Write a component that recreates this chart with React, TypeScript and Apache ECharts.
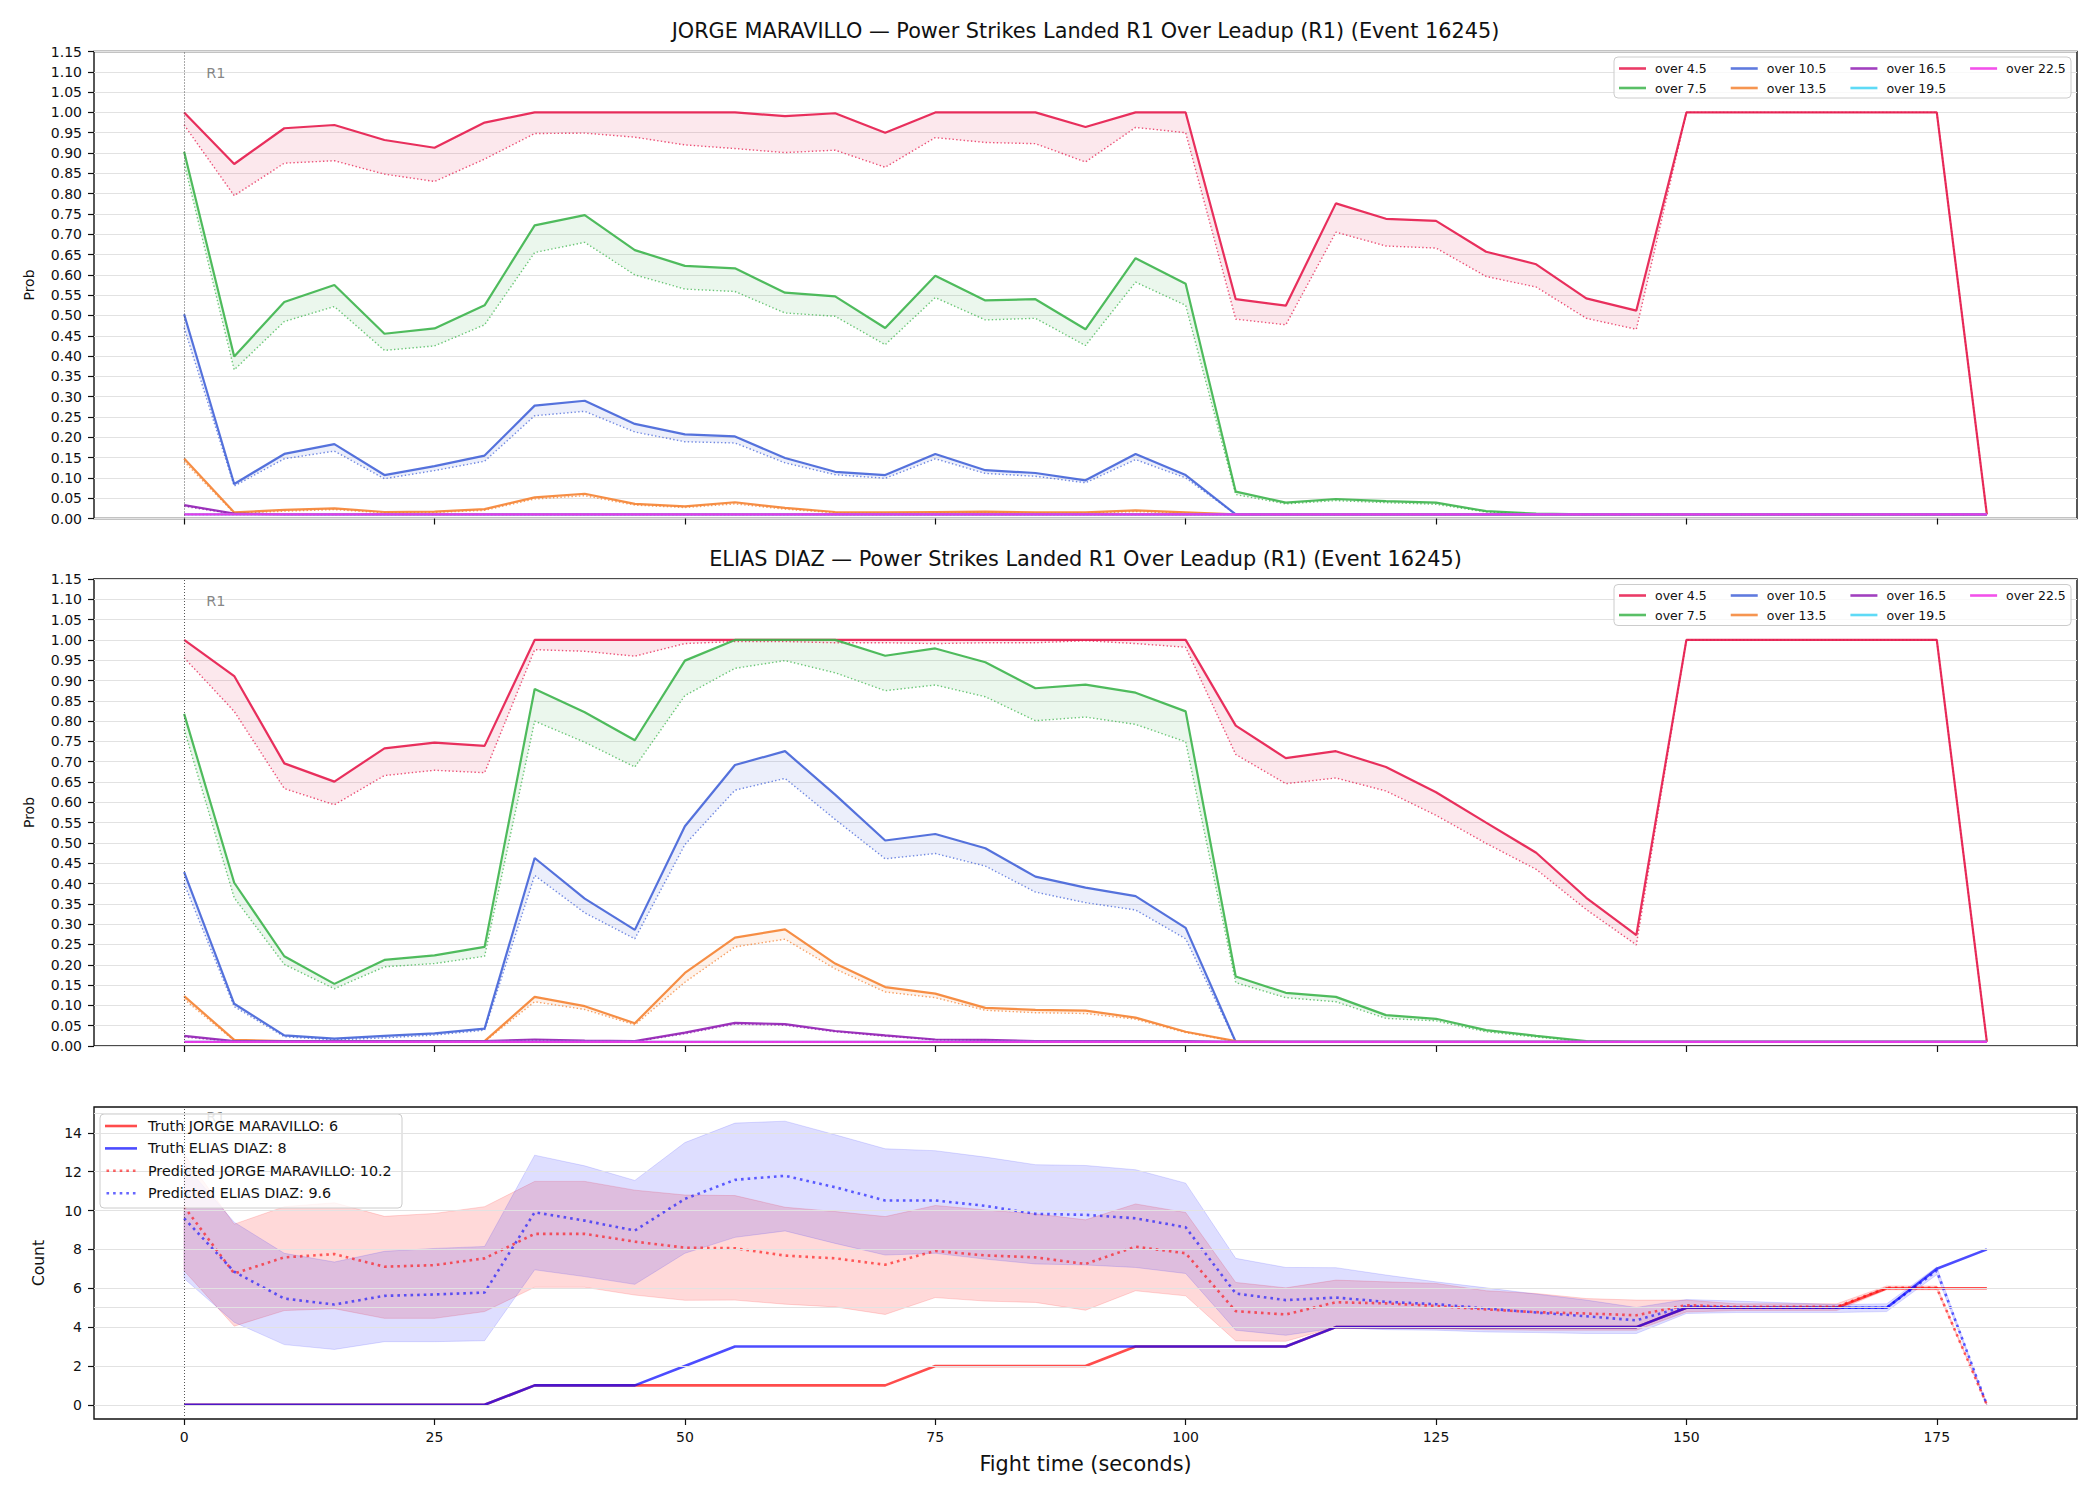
import React, { useEffect, useRef } from "react";
import * as echarts from "echarts";

const FONT = '"DejaVu Sans", Verdana, sans-serif';

const TIMES = [0,5,10,15,20,25,30,35,40,45,50,55,60,65,70,75,80,85,90,95,100,105,110,115,120,125,130,135,140,145,150,155,160,165,170,175,180];
const X_TICKS = [0,25,50,75,100,125,150,175];
const COUNT_TICKS = [0,2,4,6,8,10,12,14];
const COUNT_GRID_EXTRA = [5,15];

const THRESHOLDS = ["over 4.5","over 7.5","over 10.5","over 13.5","over 16.5","over 19.5","over 22.5"];
const THRESH_COLORS = ["#e6194b","#3cb44b","#4363d8","#f58231","#911eb4","#42d4f4","#f032e6"];
const LEGEND_ROW1 = ["over 4.5","over 10.5","over 16.5","over 22.5"];
const LEGEND_ROW2 = ["over 7.5","over 13.5","over 19.5"];

const TOP_TITLE = "JORGE MARAVILLO — Power Strikes Landed R1 Over Leadup (R1) (Event 16245)";
const MID_TITLE = "ELIAS DIAZ — Power Strikes Landed R1 Over Leadup (R1) (Event 16245)";

// ---------- JORGE MARAVILLO (solid = HI, dotted = LO) ----------
const J_45_HI = [1.000,0.873,0.961,0.969,0.932,0.913,0.975,1.000,1.000,1.000,1.000,1.000,0.991,0.998,0.950,1.000,1.000,1.000,0.964,1.000,1.000,0.540,0.524,0.776,0.738,0.733,0.657,0.626,0.542,0.512,1.000,1.000,1.000,1.000,1.000,1.000,0.010];
const J_45_LO = [0.969,0.795,0.875,0.881,0.848,0.830,0.885,0.948,0.949,0.939,0.920,0.911,0.901,0.907,0.865,0.938,0.926,0.923,0.878,0.963,0.950,0.491,0.477,0.705,0.671,0.666,0.596,0.570,0.493,0.466,1.000,1.000,1.000,1.000,1.000,1.000,0.010];
const J_75_HI = [0.903,0.399,0.533,0.575,0.455,0.468,0.525,0.722,0.747,0.661,0.622,0.616,0.556,0.547,0.469,0.598,0.537,0.540,0.466,0.641,0.578,0.066,0.039,0.048,0.043,0.039,0.018,0.012,0.010,0.010,0.010,0.010,0.010,0.010,0.010,0.010,0.010];
const J_75_LO = [0.875,0.366,0.485,0.522,0.414,0.425,0.477,0.655,0.680,0.600,0.565,0.559,0.506,0.498,0.428,0.544,0.489,0.493,0.426,0.582,0.525,0.059,0.036,0.044,0.039,0.035,0.016,0.011,0.010,0.010,0.010,0.010,0.010,0.010,0.010,0.010,0.010];
const J_105_HI = [0.503,0.085,0.159,0.183,0.107,0.129,0.155,0.278,0.290,0.233,0.207,0.202,0.149,0.115,0.107,0.159,0.119,0.112,0.094,0.159,0.107,0.010,0.010,0.010,0.010,0.010,0.010,0.010,0.010,0.010,0.010,0.010,0.010,0.010,0.010,0.010,0.010];
const J_105_LO = [0.470,0.080,0.147,0.166,0.098,0.118,0.141,0.253,0.264,0.213,0.189,0.186,0.137,0.108,0.099,0.147,0.111,0.104,0.088,0.145,0.100,0.010,0.010,0.010,0.010,0.010,0.010,0.010,0.010,0.010,0.010,0.010,0.010,0.010,0.010,0.010,0.010];
const J_135_HI = [0.148,0.015,0.021,0.025,0.016,0.017,0.023,0.052,0.061,0.036,0.030,0.040,0.026,0.016,0.015,0.016,0.017,0.015,0.015,0.020,0.015,0.010,0.010,0.010,0.010,0.010,0.010,0.010,0.010,0.010,0.010,0.010,0.010,0.010,0.010,0.010,0.010];
const J_135_LO = [0.140,0.013,0.018,0.022,0.014,0.015,0.020,0.048,0.056,0.033,0.027,0.036,0.023,0.014,0.013,0.014,0.015,0.013,0.013,0.017,0.013,0.010,0.010,0.010,0.010,0.010,0.010,0.010,0.010,0.010,0.010,0.010,0.010,0.010,0.010,0.010,0.010];
const J_165_HI = [0.033,0.012,0.010,0.010,0.010,0.010,0.010,0.010,0.010,0.010,0.010,0.010,0.010,0.010,0.010,0.010,0.010,0.010,0.010,0.010,0.010,0.010,0.010,0.010,0.010,0.010,0.010,0.010,0.010,0.010,0.010,0.010,0.010,0.010,0.010,0.010,0.010];
const J_165_LO = [0.030,0.011,0.010,0.010,0.010,0.010,0.010,0.010,0.010,0.010,0.010,0.010,0.010,0.010,0.010,0.010,0.010,0.010,0.010,0.010,0.010,0.010,0.010,0.010,0.010,0.010,0.010,0.010,0.010,0.010,0.010,0.010,0.010,0.010,0.010,0.010,0.010];
const J_195_HI = [0.010,0.010,0.010,0.010,0.010,0.010,0.010,0.010,0.010,0.010,0.010,0.010,0.010,0.010,0.010,0.010,0.010,0.010,0.010,0.010,0.010,0.010,0.010,0.010,0.010,0.010,0.010,0.010,0.010,0.010,0.010,0.010,0.010,0.010,0.010,0.010,0.010];
const J_195_LO = J_195_HI;
const J_225_HI = [0.010,0.010,0.010,0.010,0.010,0.010,0.010,0.010,0.010,0.010,0.010,0.010,0.010,0.010,0.010,0.010,0.010,0.010,0.010,0.010,0.010,0.010,0.010,0.010,0.010,0.010,0.010,0.010,0.010,0.010,0.010,0.010,0.010,0.010,0.010,0.010,0.010];
const J_225_LO = J_225_HI;

// ---------- ELIAS DIAZ ----------
const E_45_HI = [1.000,0.911,0.696,0.651,0.733,0.747,0.739,1.000,1.000,1.000,1.000,1.000,1.000,1.000,1.000,1.000,1.000,1.000,1.000,1.000,1.000,0.789,0.709,0.726,0.687,0.625,0.550,0.476,0.365,0.273,1.000,1.000,1.000,1.000,1.000,1.000,0.010];
const E_45_LO = [0.956,0.824,0.634,0.594,0.666,0.679,0.673,0.976,0.972,0.960,0.991,0.996,0.996,0.993,0.993,0.991,0.993,0.993,0.998,0.991,0.982,0.718,0.646,0.660,0.628,0.568,0.499,0.435,0.336,0.249,1.000,1.000,1.000,1.000,1.000,1.000,0.010];
const E_75_HI = [0.818,0.402,0.221,0.153,0.212,0.223,0.244,0.879,0.822,0.753,0.949,1.000,1.000,1.000,0.961,0.979,0.945,0.881,0.890,0.870,0.824,0.171,0.131,0.121,0.076,0.067,0.039,0.025,0.012,0.010,0.010,0.010,0.010,0.010,0.010,0.010,0.010];
const E_75_LO = [0.780,0.365,0.201,0.141,0.195,0.203,0.221,0.800,0.748,0.687,0.863,0.930,0.949,0.919,0.875,0.889,0.860,0.801,0.810,0.792,0.749,0.156,0.119,0.109,0.068,0.062,0.035,0.022,0.011,0.010,0.010,0.010,0.010,0.010,0.010,0.010,0.010];
const E_105_HI = [0.428,0.104,0.026,0.018,0.025,0.031,0.043,0.463,0.363,0.286,0.541,0.692,0.726,0.619,0.506,0.522,0.487,0.417,0.390,0.369,0.291,0.010,0.010,0.010,0.010,0.010,0.010,0.010,0.010,0.010,0.010,0.010,0.010,0.010,0.010,0.010,0.010];
const E_105_LO = [0.400,0.097,0.023,0.015,0.020,0.027,0.039,0.420,0.328,0.264,0.496,0.630,0.659,0.558,0.461,0.474,0.443,0.379,0.353,0.335,0.264,0.010,0.010,0.010,0.010,0.010,0.010,0.010,0.010,0.010,0.010,0.010,0.010,0.010,0.010,0.010,0.010];
const E_135_HI = [0.123,0.015,0.012,0.012,0.012,0.012,0.012,0.121,0.098,0.056,0.180,0.267,0.287,0.203,0.145,0.129,0.094,0.089,0.087,0.070,0.035,0.012,0.010,0.010,0.010,0.010,0.010,0.010,0.010,0.010,0.010,0.010,0.010,0.010,0.010,0.010,0.010];
const E_135_LO = [0.115,0.013,0.011,0.011,0.011,0.011,0.011,0.109,0.090,0.052,0.157,0.244,0.263,0.190,0.133,0.119,0.088,0.082,0.080,0.066,0.033,0.011,0.010,0.010,0.010,0.010,0.010,0.010,0.010,0.010,0.010,0.010,0.010,0.010,0.010,0.010,0.010];
const E_165_HI = [0.025,0.012,0.012,0.012,0.012,0.012,0.012,0.016,0.013,0.012,0.033,0.057,0.054,0.037,0.026,0.016,0.015,0.012,0.012,0.012,0.012,0.010,0.010,0.010,0.010,0.010,0.010,0.010,0.010,0.010,0.010,0.010,0.010,0.010,0.010,0.010,0.010];
const E_165_LO = [0.022,0.011,0.011,0.011,0.011,0.011,0.011,0.014,0.012,0.011,0.030,0.054,0.051,0.035,0.024,0.015,0.014,0.011,0.011,0.011,0.011,0.010,0.010,0.010,0.010,0.010,0.010,0.010,0.010,0.010,0.010,0.010,0.010,0.010,0.010,0.010,0.010];
const E_195_HI = J_195_HI;
const E_195_LO = J_195_HI;
const E_225_HI = J_225_HI;
const E_225_LO = J_225_HI;

// ---------- Bottom: counts ----------
const TRUTH_J = [0,0,0,0,0,0,0,1,1,1,1,1,1,1,1,2,2,2,2,3,3,3,3,4,4,4,4,4,4,4,5,5,5,5,6,6,6];
const TRUTH_E = [0,0,0,0,0,0,0,1,1,1,2,3,3,3,3,3,3,3,3,3,3,3,3,4,4,4,4,4,4,4,5,5,5,5,5,7,8];
const PRED_J = [10.2,6.76,7.59,7.76,7.11,7.19,7.54,8.80,8.80,8.40,8.09,8.06,7.68,7.54,7.21,7.92,7.69,7.59,7.25,8.14,7.80,4.82,4.65,5.28,5.22,5.09,4.91,4.77,4.70,4.61,5.13,5.04,5.04,5.04,6.02,6.02,0];
const PRED_E = [9.6,6.85,5.47,5.16,5.61,5.68,5.78,9.91,9.48,8.97,10.6,11.58,11.79,11.2,10.52,10.52,10.24,9.83,9.78,9.60,9.14,5.73,5.39,5.52,5.30,5.18,4.96,4.75,4.56,4.35,5.08,5.0,5.0,5.0,5.0,6.9,0];
const BAND_J_HI = [12.9,9.3,10.2,10.4,9.7,9.85,10.2,11.5,11.5,11.05,10.8,10.77,10.17,9.95,9.69,10.26,10.03,9.83,9.52,10.34,9.9,6.3,6.02,6.42,6.33,6.25,5.87,5.73,5.47,5.39,5.39,5.2,5.2,5.2,6.12,6.12,0];
const BAND_J_LO = [6.9,4.05,4.85,4.95,4.45,4.45,4.8,6.05,6.05,5.65,5.38,5.39,5.18,5.04,4.65,5.52,5.34,5.27,4.87,5.87,5.61,3.29,3.27,4.01,3.96,3.92,3.87,3.84,3.84,3.84,4.78,4.85,4.85,4.85,5.92,5.92,0];
const BAND_E_HI = [12.4,9.4,7.8,7.35,7.9,8.05,8.15,12.85,12.3,11.55,13.5,14.5,14.6,13.9,13.18,13.08,12.75,12.36,12.32,12.1,11.41,7.54,7.07,7.06,6.68,6.33,6.02,5.70,5.39,5.01,5.42,5.34,5.25,5.16,5.2,7.1,0];
const BAND_E_LO = [6.5,4.25,3.1,2.85,3.25,3.25,3.3,6.95,6.6,6.2,7.8,8.62,8.95,8.31,7.71,7.8,7.5,7.25,7.2,7.07,6.76,3.84,3.58,3.96,3.87,3.84,3.75,3.72,3.67,3.67,4.7,4.75,4.75,4.75,4.8,6.7,0];

const LEG_TRUTH_J = "Truth JORGE MARAVILLO: 6";
const LEG_TRUTH_E = "Truth ELIAS DIAZ: 8";
const LEG_PRED_J = "Predicted JORGE MARAVILLO: 10.2";
const LEG_PRED_E = "Predicted ELIAS DIAZ: 9.6";

const R1_TOP = [2.2, 1.097];
const R1_BOTTOM = [2.2, 14.8];

const J_HI = [J_45_HI, J_75_HI, J_105_HI, J_135_HI, J_165_HI, J_195_HI, J_225_HI];
const J_LO = [J_45_LO, J_75_LO, J_105_LO, J_135_LO, J_165_LO, J_195_LO, J_225_LO];
const E_HI = [E_45_HI, E_75_HI, E_105_HI, E_135_HI, E_165_HI, E_195_HI, E_225_HI];
const E_LO = [E_45_LO, E_75_LO, E_105_LO, E_135_LO, E_165_LO, E_195_LO, E_225_LO];

const DOT_ICON = "path://M0,0h2.6v2.6h-2.6zM6.6,0h2.6v2.6h-2.6zM13.2,0h2.6v2.6h-2.6zM19.8,0h2.6v2.6h-2.6zM26.4,0h2.6v2.6h-2.6z";

function rgba(hex: string, a: number) {
  const n = parseInt(hex.slice(1), 16);
  return `rgba(${(n >> 16) & 255},${(n >> 8) & 255},${n & 255},${a})`;
}
const pts = (arr: number[]) => TIMES.map((t, i) => [t, arr[i]]);

function bandSeries(axis: number, lo: number[], hi: number[], fill: string, stroke: string | null, z: number) {
  return {
    type: "custom", xAxisIndex: axis, yAxisIndex: axis, silent: true, z,
    data: TIMES.map((t, i) => [t, lo[i], hi[i]]),
    encode: { x: 0, y: [1, 2] },
    clip: true,
    renderItem: (params: any, api: any) => {
      if (params.dataIndex !== 0) return null;
      const upper = TIMES.map((t, i) => api.coord([t, hi[i]]));
      const lower = TIMES.map((t, i) => api.coord([t, lo[i]])).reverse();
      return {
        type: "polygon",
        shape: { points: upper.concat(lower) },
        style: { fill, stroke: stroke || "none", lineWidth: stroke ? 1 : 0 },
      };
    },
  };
}

const GRID_LEFT = 94;
const GRID_W = 1983;
const GRIDS = [
  { top: 51.5, height: 467 },
  { top: 579, height: 467 },
  { top: 1107, height: 312 },
];

function buildOption() {
  const grid = GRIDS.map((g) => ({
    left: GRID_LEFT, width: GRID_W, top: g.top, height: g.height,
    show: true, borderColor: "#111", borderWidth: 1.4, backgroundColor: "transparent",
    containLabel: false, outerBoundsMode: "none",
  }));

  const tickStyle = { color: "#111", width: 1.2 };
  const xAxis = [0, 1, 2].map((i) => ({
    type: "value", gridIndex: i, min: -9, max: 189,
    axisLine: { show: false, onZero: false },
    axisTick: { show: true, length: 6, lineStyle: tickStyle, customValues: X_TICKS },
    axisLabel: { show: i === 2, customValues: X_TICKS, fontSize: 14, fontFamily: FONT, color: "#111", margin: 11 },
    splitLine: { show: false },
    name: i === 2 ? "Fight time (seconds)" : "",
    nameLocation: "middle", nameGap: 34,
    nameTextStyle: { fontSize: 20.8, fontFamily: FONT, color: "#111" },
  }));

  const yAxis: any[] = [0, 1].map((i) => ({
    type: "value", gridIndex: i, min: 0, max: 1.15, interval: 0.05,
    axisLine: { show: false, onZero: false },
    axisTick: { show: true, length: 6, lineStyle: tickStyle },
    axisLabel: { fontSize: 14, fontFamily: FONT, color: "#111", margin: 12, formatter: (v: number) => v.toFixed(2) },
    splitLine: { show: true, lineStyle: { color: "#e2e2e2", width: 1 } },
    name: "Prob", nameLocation: "middle", nameGap: 58,
    nameTextStyle: { fontSize: 14, fontFamily: FONT, color: "#111" },
  }));
  yAxis.push({
    type: "value", gridIndex: 2, min: -0.73, max: 15.33,
    axisLine: { show: false, onZero: false },
    axisTick: { show: true, length: 6, lineStyle: tickStyle, customValues: COUNT_TICKS },
    axisLabel: { customValues: COUNT_TICKS, fontSize: 14, fontFamily: FONT, color: "#111", margin: 12 },
    splitLine: { show: false },
    name: "Count", nameLocation: "middle", nameGap: 47,
    nameTextStyle: { fontSize: 15.5, fontFamily: FONT, color: "#111" },
  });

  const series: any[] = [];
  const vLine = { xAxis: 0, lineStyle: { color: "#555", width: 1, type: [1, 2] } };

  [0, 1].forEach((p) => {
    const HI = p === 0 ? J_HI : E_HI;
    const LO = p === 0 ? J_LO : E_LO;
    THRESHOLDS.forEach((name, k) => {
      const c = THRESH_COLORS[k];
      series.push(bandSeries(p, LO[k], HI[k], rgba(c, 0.1), null, 2));
      const solid: any = {
        type: "line", xAxisIndex: p, yAxisIndex: p, name, data: pts(HI[k]),
        symbol: "none", color: c, itemStyle: { color: c },
        lineStyle: { color: c, width: 2.2, opacity: 0.9 }, z: 3,
      };
      if (k === 0) {
        solid.markLine = {
          silent: true, symbol: ["none", "none"], label: { show: false }, animation: false,
          data: [vLine],
        };
      }
      series.push(solid);
      series.push({
        type: "line", xAxisIndex: p, yAxisIndex: p, name: `p${p}_${k}_dot`, data: pts(LO[k]),
        symbol: "none", color: c, silent: true,
        lineStyle: { color: c, width: 1.4, type: [1.4, 2.3], opacity: 0.75 }, z: 3,
      });
    });
    series.push({
      type: "scatter", xAxisIndex: p, yAxisIndex: p, name: `r1_${p}`, data: [R1_TOP],
      symbolSize: 0, silent: true, z: 4,
      label: { show: true, formatter: "R1", position: "right", distance: 0, color: "#666", fontSize: 14.5, fontFamily: FONT },
    });
  });

  // bottom panel
  const gridLines = [...COUNT_TICKS, ...COUNT_GRID_EXTRA].map((v) => ({ yAxis: v }));
  series.push({
    type: "line", xAxisIndex: 2, yAxisIndex: 2, name: "gridHost", data: pts(TRUTH_J),
    symbol: "none", silent: true, z: 1, lineStyle: { width: 0, opacity: 0 },
    markLine: {
      silent: true, symbol: ["none", "none"], label: { show: false }, animation: false,
      lineStyle: { color: "#e2e2e2", width: 1, type: "solid" },
      data: [...gridLines, vLine],
    },
  });
  series.push(bandSeries(2, BAND_J_LO, BAND_J_HI, "rgba(255,0,0,0.15)", "rgba(255,0,0,0.15)", 2));
  series.push(bandSeries(2, BAND_E_LO, BAND_E_HI, "rgba(0,0,255,0.13)", "rgba(0,0,255,0.13)", 2));
  series.push({
    type: "line", xAxisIndex: 2, yAxisIndex: 2, name: LEG_TRUTH_J, data: pts(TRUTH_J),
    symbol: "none", color: "#ff0000", lineStyle: { color: "#ff0000", width: 2.6, opacity: 0.7 }, z: 3,
  });
  series.push({
    type: "line", xAxisIndex: 2, yAxisIndex: 2, name: LEG_TRUTH_E, data: pts(TRUTH_E),
    symbol: "none", color: "#0000ff", lineStyle: { color: "#0000ff", width: 2.6, opacity: 0.7 }, z: 3,
  });
  series.push({
    type: "line", xAxisIndex: 2, yAxisIndex: 2, name: LEG_PRED_J, data: pts(PRED_J),
    symbol: "none", color: "#ff0000", lineStyle: { color: "#ff0000", width: 2.6, opacity: 0.6, type: [2.6, 4] }, z: 3,
  });
  series.push({
    type: "line", xAxisIndex: 2, yAxisIndex: 2, name: LEG_PRED_E, data: pts(PRED_E),
    symbol: "none", color: "#0000ff", lineStyle: { color: "#0000ff", width: 2.6, opacity: 0.6, type: [2.6, 4] }, z: 3,
  });
  series.push({
    type: "scatter", xAxisIndex: 2, yAxisIndex: 2, name: "r1_2", data: [R1_BOTTOM],
    symbolSize: 0, silent: true, z: 2,
    label: { show: true, formatter: "R1", position: "right", distance: 0, color: "#666", fontSize: 14.5, fontFamily: FONT },
  });

  const smallLegend = (top: number, data: string[]) => ({
    show: true, orient: "horizontal", left: 1619, top, padding: 0,
    itemGap: 24, itemWidth: 27, itemHeight: 2.6, icon: "rect", selectedMode: false,
    data: data.map((n) => ({ name: n, itemStyle: { opacity: 0.85 } })), z: 6,
    textStyle: { fontSize: 12.5, fontFamily: FONT, color: "#111", lineHeight: 14, padding: [0, 0, 0, 4] },
  });
  const legend = [
    smallLegend(61.5, LEGEND_ROW1),
    smallLegend(81, LEGEND_ROW2),
    smallLegend(588.5, LEGEND_ROW1),
    smallLegend(608, LEGEND_ROW2),
    {
      show: true, orient: "vertical", left: 105, top: 1118, padding: 0,
      itemGap: 6.4, itemWidth: 32, itemHeight: 2.6, selectedMode: false, z: 6,
      data: [
        { name: LEG_TRUTH_J, icon: "rect", itemStyle: { opacity: 0.7 } },
        { name: LEG_TRUTH_E, icon: "rect", itemStyle: { opacity: 0.7 } },
        { name: LEG_PRED_J, icon: DOT_ICON, itemStyle: { opacity: 0.6 } },
        { name: LEG_PRED_E, icon: DOT_ICON, itemStyle: { opacity: 0.6 } },
      ],
      textStyle: { fontSize: 14.3, fontFamily: FONT, color: "#111", lineHeight: 16, padding: [0, 0, 0, 6] },
    },
  ];

  const frame = (x: number, y: number, w: number, h: number) => ({
    type: "rect", z: 5, silent: true,
    shape: { x, y, width: w, height: h, r: 4 },
    style: { fill: "rgba(255,255,255,0.8)", stroke: "#cccccc", lineWidth: 1 },
  });
  const titleText = (y: number, text: string) => ({
    type: "text", z: 6, silent: true, x: GRID_LEFT + GRID_W / 2, y,
    style: { text, fontSize: 20.8, fontFamily: FONT, fill: "#111", align: "center", verticalAlign: "middle" },
  });

  return {
    animation: false,
    backgroundColor: "#ffffff",
    textStyle: { fontFamily: FONT },
    grid, xAxis, yAxis, series, legend,
    graphic: [
      frame(1614, 57, 457, 41),
      frame(1614, 584.5, 457, 41),
      frame(100, 1114, 302, 94),
      titleText(31, TOP_TITLE),
      titleText(558.5, MID_TITLE),
    ],
  };
}

export default function App() {
  const ref = useRef<HTMLDivElement>(null);
  useEffect(() => {
    const chart = echarts.init(ref.current!, null, { renderer: "svg", width: 2100, height: 1500 });
    chart.setOption(buildOption() as any);
    return () => chart.dispose();
  }, []);
  return (
    <div
      ref={ref}
      style={{ position: "fixed", left: 0, top: 0, width: 2100, height: 1500, background: "#fff" }}
    />
  );
}
